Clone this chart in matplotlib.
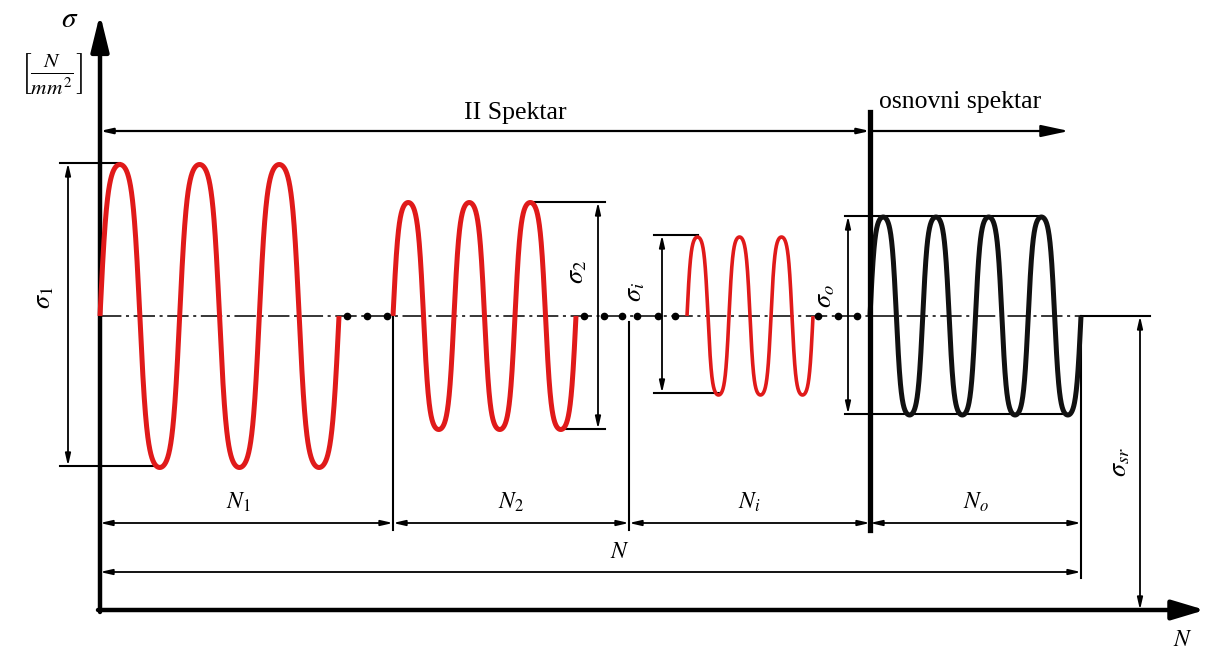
import numpy as np
import matplotlib
matplotlib.use("Agg")
import matplotlib.pyplot as plt

plt.rcParams['mathtext.fontset'] = 'stix'
plt.rcParams['font.family'] = ['Liberation Serif', 'DejaVu Serif']

# ---- diagram data (pixel-like units, y grows downward) ----
mid_level = 316
block_names = ['1', '2', 'i', 'o']
block_start = [100, 393, 687, 870]
block_end = [339, 576, 813, 1081]
block_cycles = [3, 3, 3, 4]
block_top = [163, 202, 235, 216]
block_bottom = [466, 429, 393, 414]
block_colors = ['#e01a1a', '#e01a1a', '#e01a1a', '#111111']
block_lw = [3.6, 3.6, 2.6, 3.6]

sigma_dim_x = [68, 598, 662, 848]
sigma_label_x = [45, 578, 636, 826]
sigma_label_y = [298, 272, 292, 296]
sigma_side = ['left', 'right', 'left', 'left']

gap_dots = [347, 367, 387, 584, 604, 622, 637, 658, 675, 818, 838, 857]

n_bounds = [100, 393, 629, 870, 1081]
n_labels = ['$N_1$', '$N_2$', '$N_i$', '$N_o$']

sr_x = 1140
axis_origin = (100, 610)

fig = plt.figure(figsize=(12.09, 6.5), dpi=100)
ax = fig.add_axes([0, 0, 1, 1])
ax.set_xlim(0, 1209)
ax.set_ylim(650, 0)
ax.axis('off')

K = 1.6


def wave(s, e, cyc, amp, n=1200):
    x = np.linspace(s, e, n)
    ph = 2 * np.pi * cyc * (x - s) / (e - s)
    f = np.tanh(K * np.sin(ph)) / np.tanh(K)
    y = mid_level - amp * f
    return x, y


def dim(x0, y0, x1, y1, lw=1.3, z=3):
    ax.annotate('', xy=(x1, y1), xytext=(x0, y0),
                arrowprops=dict(arrowstyle='<|-|>,head_length=0.7,head_width=0.16',
                                lw=lw, color='black', shrinkA=0, shrinkB=0,
                                mutation_scale=10), zorder=z)


# axes
ox, oy = axis_origin
ax.annotate('', xy=(ox, 14), xytext=(ox, oy + 2),
            arrowprops=dict(arrowstyle='-|>,head_length=1.1,head_width=0.27',
                            lw=3.2, color='black', shrinkA=0, shrinkB=0,
                            mutation_scale=20), zorder=4)
ax.annotate('', xy=(1205, oy), xytext=(ox - 2, oy),
            arrowprops=dict(arrowstyle='-|>,head_length=1.0,head_width=0.3',
                            lw=3.2, color='black', shrinkA=0, shrinkB=0,
                            mutation_scale=20), zorder=4)
ax.text(70, 20, r'$\sigma$', fontsize=21, ha='center', va='center')
ax.text(52, 74, r'$\left[\frac{N}{mm^2}\right]$', fontsize=22, ha='center', va='center')
ax.text(1183, 640, r'$N$', fontsize=17, ha='center', va='center')

# midline dash-dot
ax.plot([100, 1081], [mid_level, mid_level], color='black', lw=1.1,
        linestyle=(0, (14, 3, 2, 3)), zorder=2)

# waves
for i in range(4):
    s, e, c = block_start[i], block_end[i], block_cycles[i]
    amp = (block_bottom[i] - block_top[i]) / 2
    x, y = wave(s, e, c, amp)
    ax.plot(x, y, color=block_colors[i], lw=block_lw[i], solid_capstyle='butt',
            solid_joinstyle='round', zorder=5)

    P = (e - s) / c
    dx = sigma_dim_x[i]
    if sigma_side[i] == 'left':
        pk = s + 0.25 * P
        tr = s + 0.75 * P
        ext = dx - 8
    else:
        pk = s + (c - 0.75) * P
        tr = s + (c - 0.25) * P
        ext = dx + 7
    if i == 3:
        pk = s + (c - 0.75) * P
        tr = s + (c - 0.25) * P
        ext = dx - 3
    ax.plot([ext, pk], [block_top[i], block_top[i]], color='black', lw=1.5, zorder=3)
    ax.plot([ext, tr], [block_bottom[i], block_bottom[i]], color='black', lw=1.5, zorder=3)
    dim(dx, block_top[i], dx, block_bottom[i])
    ax.text(sigma_label_x[i], sigma_label_y[i], r'$\sigma_{%s}$' % block_names[i],
            fontsize=19, rotation=90, ha='center', va='center')

# gap dots
ax.plot(gap_dots, [mid_level] * len(gap_dots), 'o', color='black', ms=4.5, zorder=6)

# vertical boundary lines
ax.plot([393, 393], [mid_level, 530], color='black', lw=1.5, zorder=3)
ax.plot([629, 629], [mid_level + 6, 530], color='black', lw=1.5, zorder=3)
ax.plot([1081, 1081], [mid_level, 578], color='black', lw=1.5, zorder=3)
ax.plot([870, 870], [112, 530], color='black', lw=3.8, zorder=6)

# sigma_sr
ax.plot([1081, 1150], [mid_level, mid_level], color='black', lw=1.5, zorder=3)
dim(sr_x, mid_level, sr_x, oy)
ax.text(1121, 462, r'$\sigma_{sr}$', fontsize=19, rotation=90, ha='center', va='center')

# spectrum arrows
dim(100, 131, 870, 131, lw=1.6)
ax.annotate('', xy=(1069, 131), xytext=(870, 131),
            arrowprops=dict(arrowstyle='-|>,head_length=1.4,head_width=0.3',
                            lw=1.6, color='black', shrinkA=0, shrinkB=0,
                            mutation_scale=12), zorder=3)
ax.text(515, 113, 'II Spektar', fontsize=18.5, ha='center', va='center')
ax.text(879, 102, 'osnovni spektar', fontsize=18.5, ha='left', va='center')

# N dimensions
for j in range(4):
    a, b = n_bounds[j], n_bounds[j + 1]
    dim(a, 523, b, 523)
    ax.text((a + b) / 2 + (-8 if j == 0 else 0), 502, n_labels[j], fontsize=17,
            ha='center', va='center')
dim(100, 572, 1081, 572)
ax.text(620, 553, r'$N$', fontsize=17, ha='center', va='center')

fig.savefig('out.png', dpi=100, facecolor='white')
